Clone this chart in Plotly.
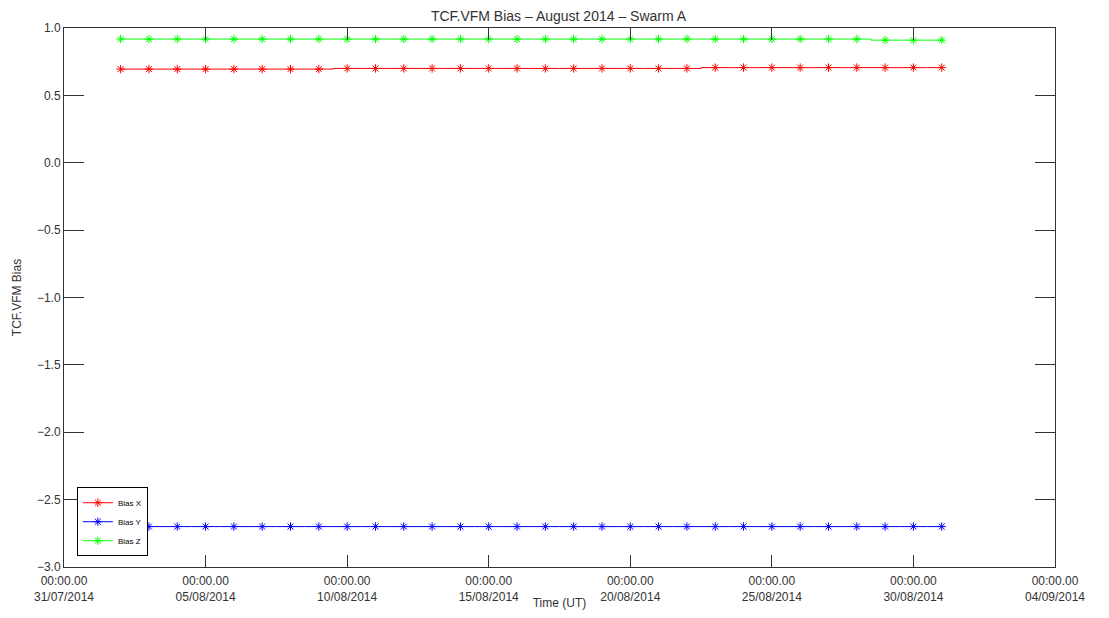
import plotly.graph_objects as go

dates = [
    "2014-08-02", "2014-08-03", "2014-08-04", "2014-08-05", "2014-08-06",
    "2014-08-07", "2014-08-08", "2014-08-09", "2014-08-10", "2014-08-11",
    "2014-08-12", "2014-08-13", "2014-08-14", "2014-08-15", "2014-08-16",
    "2014-08-17", "2014-08-18", "2014-08-19", "2014-08-20", "2014-08-21",
    "2014-08-22", "2014-08-23", "2014-08-24", "2014-08-25", "2014-08-26",
    "2014-08-27", "2014-08-28", "2014-08-29", "2014-08-30", "2014-08-31",
]
bias_x = [0.695] * 8 + [0.700] * 13 + [0.706] * 9
bias_y = [-2.700] * 30
bias_z = [0.918] * 27 + [0.910] * 3

tick_vals = ["2014-07-31", "2014-08-05", "2014-08-10", "2014-08-15",
             "2014-08-20", "2014-08-25", "2014-08-30", "2014-09-04"]
tick_text = ["00:00.00<br>31/07/2014", "00:00.00<br>05/08/2014", "00:00.00<br>10/08/2014",
             "00:00.00<br>15/08/2014", "00:00.00<br>20/08/2014", "00:00.00<br>25/08/2014",
             "00:00.00<br>30/08/2014", "00:00.00<br>04/09/2014"]

series = [("Bias X", bias_x, "#ff0000"), ("Bias Y", bias_y, "#0000ff"), ("Bias Z", bias_z, "#00ff00")]

fig = go.Figure()
for name, vals, col in series:
    fig.add_trace(go.Scatter(
        x=dates, y=vals, name=name, mode="lines+markers",
        line=dict(color=col, width=1, shape="hvh"),
        marker=dict(symbol="asterisk-open", size=7, color=col, line=dict(color=col, width=1)),
    ))

font_family = "Liberation Sans, Arial, sans-serif"
fig.update_layout(
    width=1101, height=602,
    margin=dict(l=56, r=54, t=20, b=43, autoexpand=False),
    paper_bgcolor="white", plot_bgcolor="white",
    font=dict(family=font_family, size=12, color="#333333"),
    title=dict(text="TCF.VFM Bias \u2013 August 2014 \u2013 Swarm A", x=0.5, xanchor="center",
               yref="container", y=0.986, yanchor="middle", font=dict(size=14, color="#333333")),
    showlegend=True,
    legend=dict(x=0.013, y=0.02, xanchor="left", yanchor="bottom",
                bordercolor="black", borderwidth=1, bgcolor="white",
                font=dict(size=8, color="black"), itemwidth=30,
                tracegroupgap=0, traceorder="normal"),
)
fig.update_xaxes(
    range=["2014-07-31", "2014-09-04"],
    tickvals=tick_vals, ticktext=tick_text,
    ticks="inside", ticklen=12, tickcolor="#333333", ticklabelstandoff=3,
    showline=True, linecolor="#333333", linewidth=1, mirror="ticks",
    showgrid=False, zeroline=False, automargin=False,
    title=dict(text="Time (UT)", font=dict(size=12), standoff=0),
    tickfont=dict(size=12),
)
fig.update_yaxes(
    range=[-3.0, 1.0], tickvals=[-3.0, -2.5, -2.0, -1.5, -1.0, -0.5, 0.0, 0.5, 1.0],
    ticktext=["\u22123.0", "\u22122.5", "\u22122.0", "\u22121.5", "\u22121.0", "\u22120.5", "0.0", "0.5", "1.0"],
    ticks="inside", ticklen=20, tickcolor="#333333",
    showline=True, linecolor="#333333", linewidth=1, mirror="ticks",
    showgrid=False, zeroline=False, automargin=False,
    title=dict(text="TCF.VFM Bias", font=dict(size=12), standoff=12),
    tickfont=dict(size=12),
)
fig.write_html("out.html")
